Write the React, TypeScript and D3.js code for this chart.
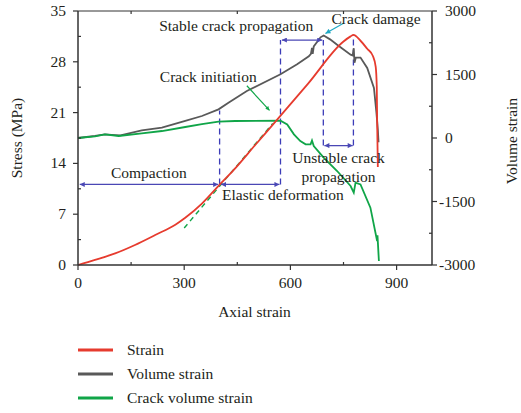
import React, { useEffect } from "react";
import * as d3 from "d3";

// Axial strain vs. stress (MPa)
const strainX = [0, 48, 105, 161, 218, 275, 303, 350, 397, 440, 500, 562, 650, 750, 770, 778, 798, 817, 833, 841, 844, 845, 847];
const strainY = [0, 0.7, 1.6, 2.76, 4.13, 5.55, 6.5, 8.45, 10.9, 13.1, 16.5, 20.0, 25.0, 30.8, 31.5, 31.7, 30.9, 29.8, 28.8, 27.3, 24.5, 20.0, 13.5];

// Axial strain vs. volume strain
const volumeX = [0, 48, 76, 105, 120, 180, 237, 303, 350, 397, 425, 477, 572, 619, 652, 658, 661, 663, 666, 685, 694, 712, 732, 770, 776, 779, 781, 785, 798, 817, 836, 843, 847, 849];
const volumeY = [0, 50, 87, 70, 63, 181, 244, 402, 520, 677, 835, 1110, 1504, 1740, 1930, 1990, 2130, 1990, 2165, 2378, 2420, 2330, 2205, 1968, 1950, 2120, 1780, 1900, 1900, 1654, 1181, 600, 200, -100];

// Axial strain vs. crack volume strain
const crackX = [0, 48, 76, 115, 180, 237, 303, 350, 397, 444, 572, 591, 610, 628, 643, 657, 661, 666, 694, 732, 770, 779, 784, 798, 826, 845, 846, 850];
const crackY = [0, 40, 87, 47, 110, 165, 260, 330, 386, 402, 410, 320, 87, -71, -150, -150, -60, -190, -465, -780, -1134, -1292, -1056, -1095, -1646, -2433, -2300, -2906];

// Extrapolated elastic line (stress axis)
const elasticLineX = [300, 550];
const elasticLineY = [5.1, 19.5];

// Tick values
const xTicks = [0, 300, 600, 900];
const xMinor = [150, 450, 750];
const stressTicks = [0, 7, 14, 21, 28, 35];
const stressMinor = [3.5, 10.5, 17.5, 24.5, 31.5];
const volTicks = [-3000, -1500, 0, 1500, 3000];
const volMinor = [-2250, -750, 750, 2250];

// Stage boundaries: axial strain, stress bottom, stress top
const boundaryX = [400, 572, 693, 778];
const boundaryLow = [11.1, 11.1, 16.45, 16.45];
const boundaryHigh = [21.3, 31.0, 31.0, 31.7];

// Stage ranges (double arrows): start, end, stress level
const stageStart = [5, 404, 576, 696];
const stageEnd = [396, 569, 690, 776];
const stageLevel = [11.1, 11.1, 31.0, 16.45];

const labelFont = "'Liberation Serif', 'Times New Roman', serif";
const FS = 15.5;

const RED = "#e63b2e";
const GRAY = "#595959";
const GREEN = "#10a548";
const BLUE = "#3c3cb8";
const ARROW = "#4a47b5";
const CYAN = "#20a9c4";

export default function App() {
  useEffect(() => {
    document.body.style.margin = "0";
  }, []);

  const W = 521;
  const H = 413;
  const left = 78, right = 432, top = 11, bottom = 265;

  const x = d3.scaleLinear().domain([0, 1000]).range([left, right]);
  const yS = d3.scaleLinear().domain([0, 35]).range([bottom, top]);
  const yV = d3.scaleLinear().domain([-3000, 3000]).range([bottom, top]);

  const redLine = d3.line<number>().x((_, i) => x(strainX[i])).y((d) => yS(d)).curve(d3.curveMonotoneX);
  const grayLine = d3.line<number>().x((_, i) => x(volumeX[i])).y((d) => yV(d));
  const greenLine = d3.line<number>().x((_, i) => x(crackX[i])).y((d) => yV(d));
  const dashLine = d3.line<number>().x((_, i) => x(elasticLineX[i])).y((d) => yS(d));

  const axisColor = "#333";

  return (
    <svg width={W} height={H} style={{ position: "absolute", left: 0, top: 0, background: "#fff" }} fontFamily={labelFont}>
      <defs>
        <marker id="ahB" viewBox="0 0 10 10" refX="10" refY="5" markerWidth="6" markerHeight="5" orient="auto-start-reverse" markerUnits="userSpaceOnUse">
          <path d="M0,0 L10,5 L0,10 z" fill={ARROW} />
        </marker>
        <marker id="ahC" viewBox="0 0 10 10" refX="10" refY="5" markerWidth="7" markerHeight="5" orient="auto" markerUnits="userSpaceOnUse">
          <path d="M0,0 L10,5 L0,10 z" fill={CYAN} />
        </marker>
        <marker id="ahG" viewBox="0 0 10 10" refX="10" refY="5" markerWidth="6" markerHeight="4" orient="auto" markerUnits="userSpaceOnUse">
          <path d="M0,0 L10,5 L0,10 z" fill={GREEN} />
        </marker>
      </defs>

      {/* stage boundaries */}
      {boundaryX.map((bx, i) => (
        <line key={"b" + i} x1={x(bx)} x2={x(bx)} y1={yS(boundaryLow[i])} y2={yS(boundaryHigh[i])}
          stroke={BLUE} strokeWidth={1.3} strokeDasharray="6,4" />
      ))}

      {/* curves */}
      <path d={dashLine(elasticLineY) || ""} fill="none" stroke={GREEN} strokeWidth={1.4} strokeDasharray="5,4" />
      <path d={grayLine(volumeY) || ""} fill="none" stroke={GRAY} strokeWidth={1.8} />
      <path d={greenLine(crackY) || ""} fill="none" stroke={GREEN} strokeWidth={1.8} />
      <path d={redLine(strainY) || ""} fill="none" stroke={RED} strokeWidth={1.8} />

      {/* stage arrows */}
      {stageStart.map((s, i) => (
        <line key={"a" + i} x1={x(s)} x2={x(stageEnd[i])} y1={yS(stageLevel[i])} y2={yS(stageLevel[i])}
          stroke={ARROW} strokeWidth={1.3} markerStart="url(#ahB)" markerEnd="url(#ahB)" />
      ))}

      {/* pointers */}
      <line x1={x(750)} y1={yS(33.3)} x2={x(699)} y2={yS(31.9)} stroke={CYAN} strokeWidth={1.2} markerEnd="url(#ahC)" />
      <line x1={x(477)} y1={yS(24.7)} x2={x(541)} y2={yS(21.3)} stroke={GREEN} strokeWidth={1.2} markerEnd="url(#ahG)" />

      {/* annotation text */}
      <g fontSize={FS} fill="#231f20" textAnchor="middle">
        <text x={x(447)} y={yS(32.2)}>Stable crack propagation</text>
        <text x={x(842)} y={yS(33.2)}>Crack damage</text>
        <text x={x(368)} y={yS(25.2)}>Crack initiation</text>
        <text x={x(200)} y={yS(12.0)}>Compaction</text>
        <text x={x(579)} y={yS(8.96)}>Elastic deformation</text>
        <text x={x(736)} y={yS(14.06)}>Unstable crack</text>
        <text x={x(736)} y={yS(11.48)}>propagation</text>
      </g>

      {/* frame */}
      <g stroke={axisColor} strokeWidth={1.5} fill="none">
        <line x1={left} x2={right} y1={top} y2={top} strokeWidth={1} />
        <line x1={left} x2={left} y1={top} y2={bottom} />
        <line x1={right} x2={right} y1={top} y2={bottom} />
        <line x1={left} x2={right} y1={bottom} y2={bottom} />
      </g>

      {/* x ticks */}
      <g stroke={axisColor} strokeWidth={1.2}>
        {xTicks.map((t) => <line key={"xt" + t} x1={x(t)} x2={x(t)} y1={bottom} y2={bottom + 5} />)}
        {xMinor.map((t) => <line key={"xm" + t} x1={x(t)} x2={x(t)} y1={bottom} y2={bottom - 3} />)}
        {xMinor.map((t) => <line key={"xtop" + t} x1={x(t)} x2={x(t)} y1={top} y2={top + 3} />)}
      </g>
      <g fontSize={FS} fill="#231f20" textAnchor="middle">
        {xTicks.map((t) => <text key={"xl" + t} x={x(t)} y={288}>{t}</text>)}
      </g>

      {/* stress ticks */}
      <g stroke={axisColor} strokeWidth={1.2}>
        {stressTicks.map((t) => <line key={"st" + t} x1={left - 5} x2={left} y1={yS(t)} y2={yS(t)} />)}
        {stressMinor.map((t) => <line key={"sm" + t} x1={left} x2={left + 3} y1={yS(t)} y2={yS(t)} />)}
      </g>
      <g fontSize={FS} fill="#231f20" textAnchor="end">
        {stressTicks.map((t) => <text key={"sl" + t} x={66} y={yS(t) + 5}>{t}</text>)}
      </g>

      {/* volume strain ticks */}
      <g stroke={axisColor} strokeWidth={1.2}>
        {volTicks.map((t) => <line key={"vt" + t} x1={right} x2={right + 5} y1={yV(t)} y2={yV(t)} />)}
        {volMinor.map((t) => <line key={"vm" + t} x1={right - 3} x2={right} y1={yV(t)} y2={yV(t)} />)}
      </g>
      <g fontSize={FS} fill="#231f20">
        {volTicks.map((t) => <text key={"vl" + t} x={t < 0 ? 439 : 445} y={yV(t) + 5}>{t}</text>)}
      </g>

      {/* axis titles */}
      <g fontSize={FS} fill="#231f20" textAnchor="middle">
        <text x={254.5} y={317}>Axial strain</text>
        <text transform={`translate(21.5,${(top + bottom) / 2}) rotate(-90)`}>Stress (MPa)</text>
        <text transform={`translate(517,${(top + bottom) / 2 + 3}) rotate(-90)`}>Volume strain</text>
      </g>

      {/* legend */}
      {[["Strain", RED], ["Volume strain", GRAY], ["Crack volume strain", GREEN]].map(([name, c], i) => (
        <g key={name} transform={`translate(0,${350 + i * 24})`}>
          <line x1={78} x2={113} y1={0} y2={0} stroke={c} strokeWidth={3} />
          <text x={127} y={5} fontSize={FS} fill="#231f20">{name}</text>
        </g>
      ))}
    </svg>
  );
}
